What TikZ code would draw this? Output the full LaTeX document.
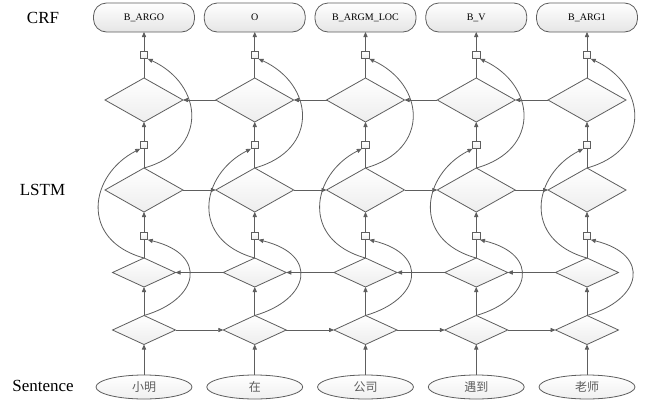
\documentclass[tikz,border=0pt]{standalone}
\usepackage{fontspec}
\setmainfont{Liberation Serif}
\newfontfamily\cjk{Noto Sans CJK SC}
\usetikzlibrary{shapes.geometric,arrows.meta}

\definecolor{ln}{HTML}{5E5E5E}

\begin{document}
\begin{tikzpicture}[x=1pt,y=-1pt,
  line/.style={draw=ln, line width=0.8pt},
  arr/.style={line, -{Triangle[length=5pt,width=4.2pt]}},
  bigcell/.style={diamond, draw=ln, line width=0.8pt, top color=white,
    bottom color=gray!14, minimum width=78pt, minimum height=44pt,
    inner sep=0pt, outer sep=0pt},
  smallcell/.style={bigcell, minimum width=63pt, minimum height=29pt},
  concat/.style={rectangle, draw=ln, line width=0.8pt, top color=white,
    bottom color=gray!15, minimum size=7.5pt, inner sep=0pt, outer sep=0pt},
  tagbox/.style={rectangle, rounded corners=13pt, draw=ln, line width=0.8pt,
    top color=white, bottom color=gray!20, minimum width=101pt,
    minimum height=29pt, inner sep=0pt, outer sep=0pt,
    font=\fontsize{10}{12}\selectfont},
  wordnode/.style={ellipse, draw=ln, line width=0.8pt, top color=white,
    bottom color=gray!12, minimum width=96pt, minimum height=24pt,
    inner sep=0pt, outer sep=0pt, text=ln,
    font=\cjk\fontsize{12}{14}\selectfont},
  rowlabel/.style={font=\fontsize{17}{20}\selectfont}
]
% canvas
\fill[white] (0,0) rectangle (646,402);
\useasboundingbox (0,0) rectangle (646,402);

% row labels
\node[rowlabel] (lcrf)  at (43,17.5) {CRF};
\node[rowlabel] (llstm) at (42.5,190) {LSTM};
\node[rowlabel] (lsent) at (43,386) {Sentence};

% one column per token: input, two BiLSTM layers, concatenation, CRF tag
\foreach \i/\w/\t [evaluate=\i as \x using 144+110.75*(\i-1)] in
  {1/小明/B\_ARGO, 2/在/O, 3/公司/B\_ARGM\_LOC, 4/遇到/B\_V, 5/老师/B\_ARG1} {
  \node[wordnode]  (w\i) at (\x,387)   {\w};
  \node[smallcell] (a\i) at (\x,330)   {};
  \node[smallcell] (b\i) at (\x,272.5) {};
  \node[concat]    (p\i) at (\x,236)   {};
  \node[bigcell]   (c\i) at (\x,190)   {};
  \node[concat]    (q\i) at (\x,145)   {};
  \node[bigcell]   (d\i) at (\x,100)   {};
  \node[concat]    (r\i) at (\x,55)    {};
  \node[tagbox]    (t\i) at (\x,17.5)  {\t};

  \draw[arr]  (w\i.north) -- (a\i.south);
  \draw[arr]  (a\i.north) -- (b\i.south);
  \draw[line] (b\i.north) -- (p\i.south);
  \draw[arr]  (p\i.north) -- (c\i.south);
  \draw[line] (c\i.north) -- (q\i.south);
  \draw[arr]  (q\i.north) -- (d\i.south);
  \draw[line] (d\i.north) -- (r\i.south);
  \draw[arr]  (r\i.north) -- (t\i.south);

  % skip connections into the concatenation boxes
  \draw[arr] (a\i.north) .. controls +(55,-16) and +(61,15) .. (p\i.south east);
  \draw[arr] (b\i.north) .. controls +(-65,-18) and +(-51,26) .. (q\i.south west);
  \draw[arr] (c\i.north) .. controls +(65,-18) and +(56,26) .. (r\i.south east);
}

% recurrent links: forward rows point right, backward rows point left
\foreach \i [evaluate=\i as \j using int(\i+1)] in {1,...,4} {
  \draw[arr] (a\i.east) -- (a\j.west);
  \draw[arr] (b\j.west) -- (b\i.east);
  \draw[arr] (c\i.east) -- (c\j.west);
  \draw[arr] (d\j.west) -- (d\i.east);
}
\end{tikzpicture}
\end{document}
